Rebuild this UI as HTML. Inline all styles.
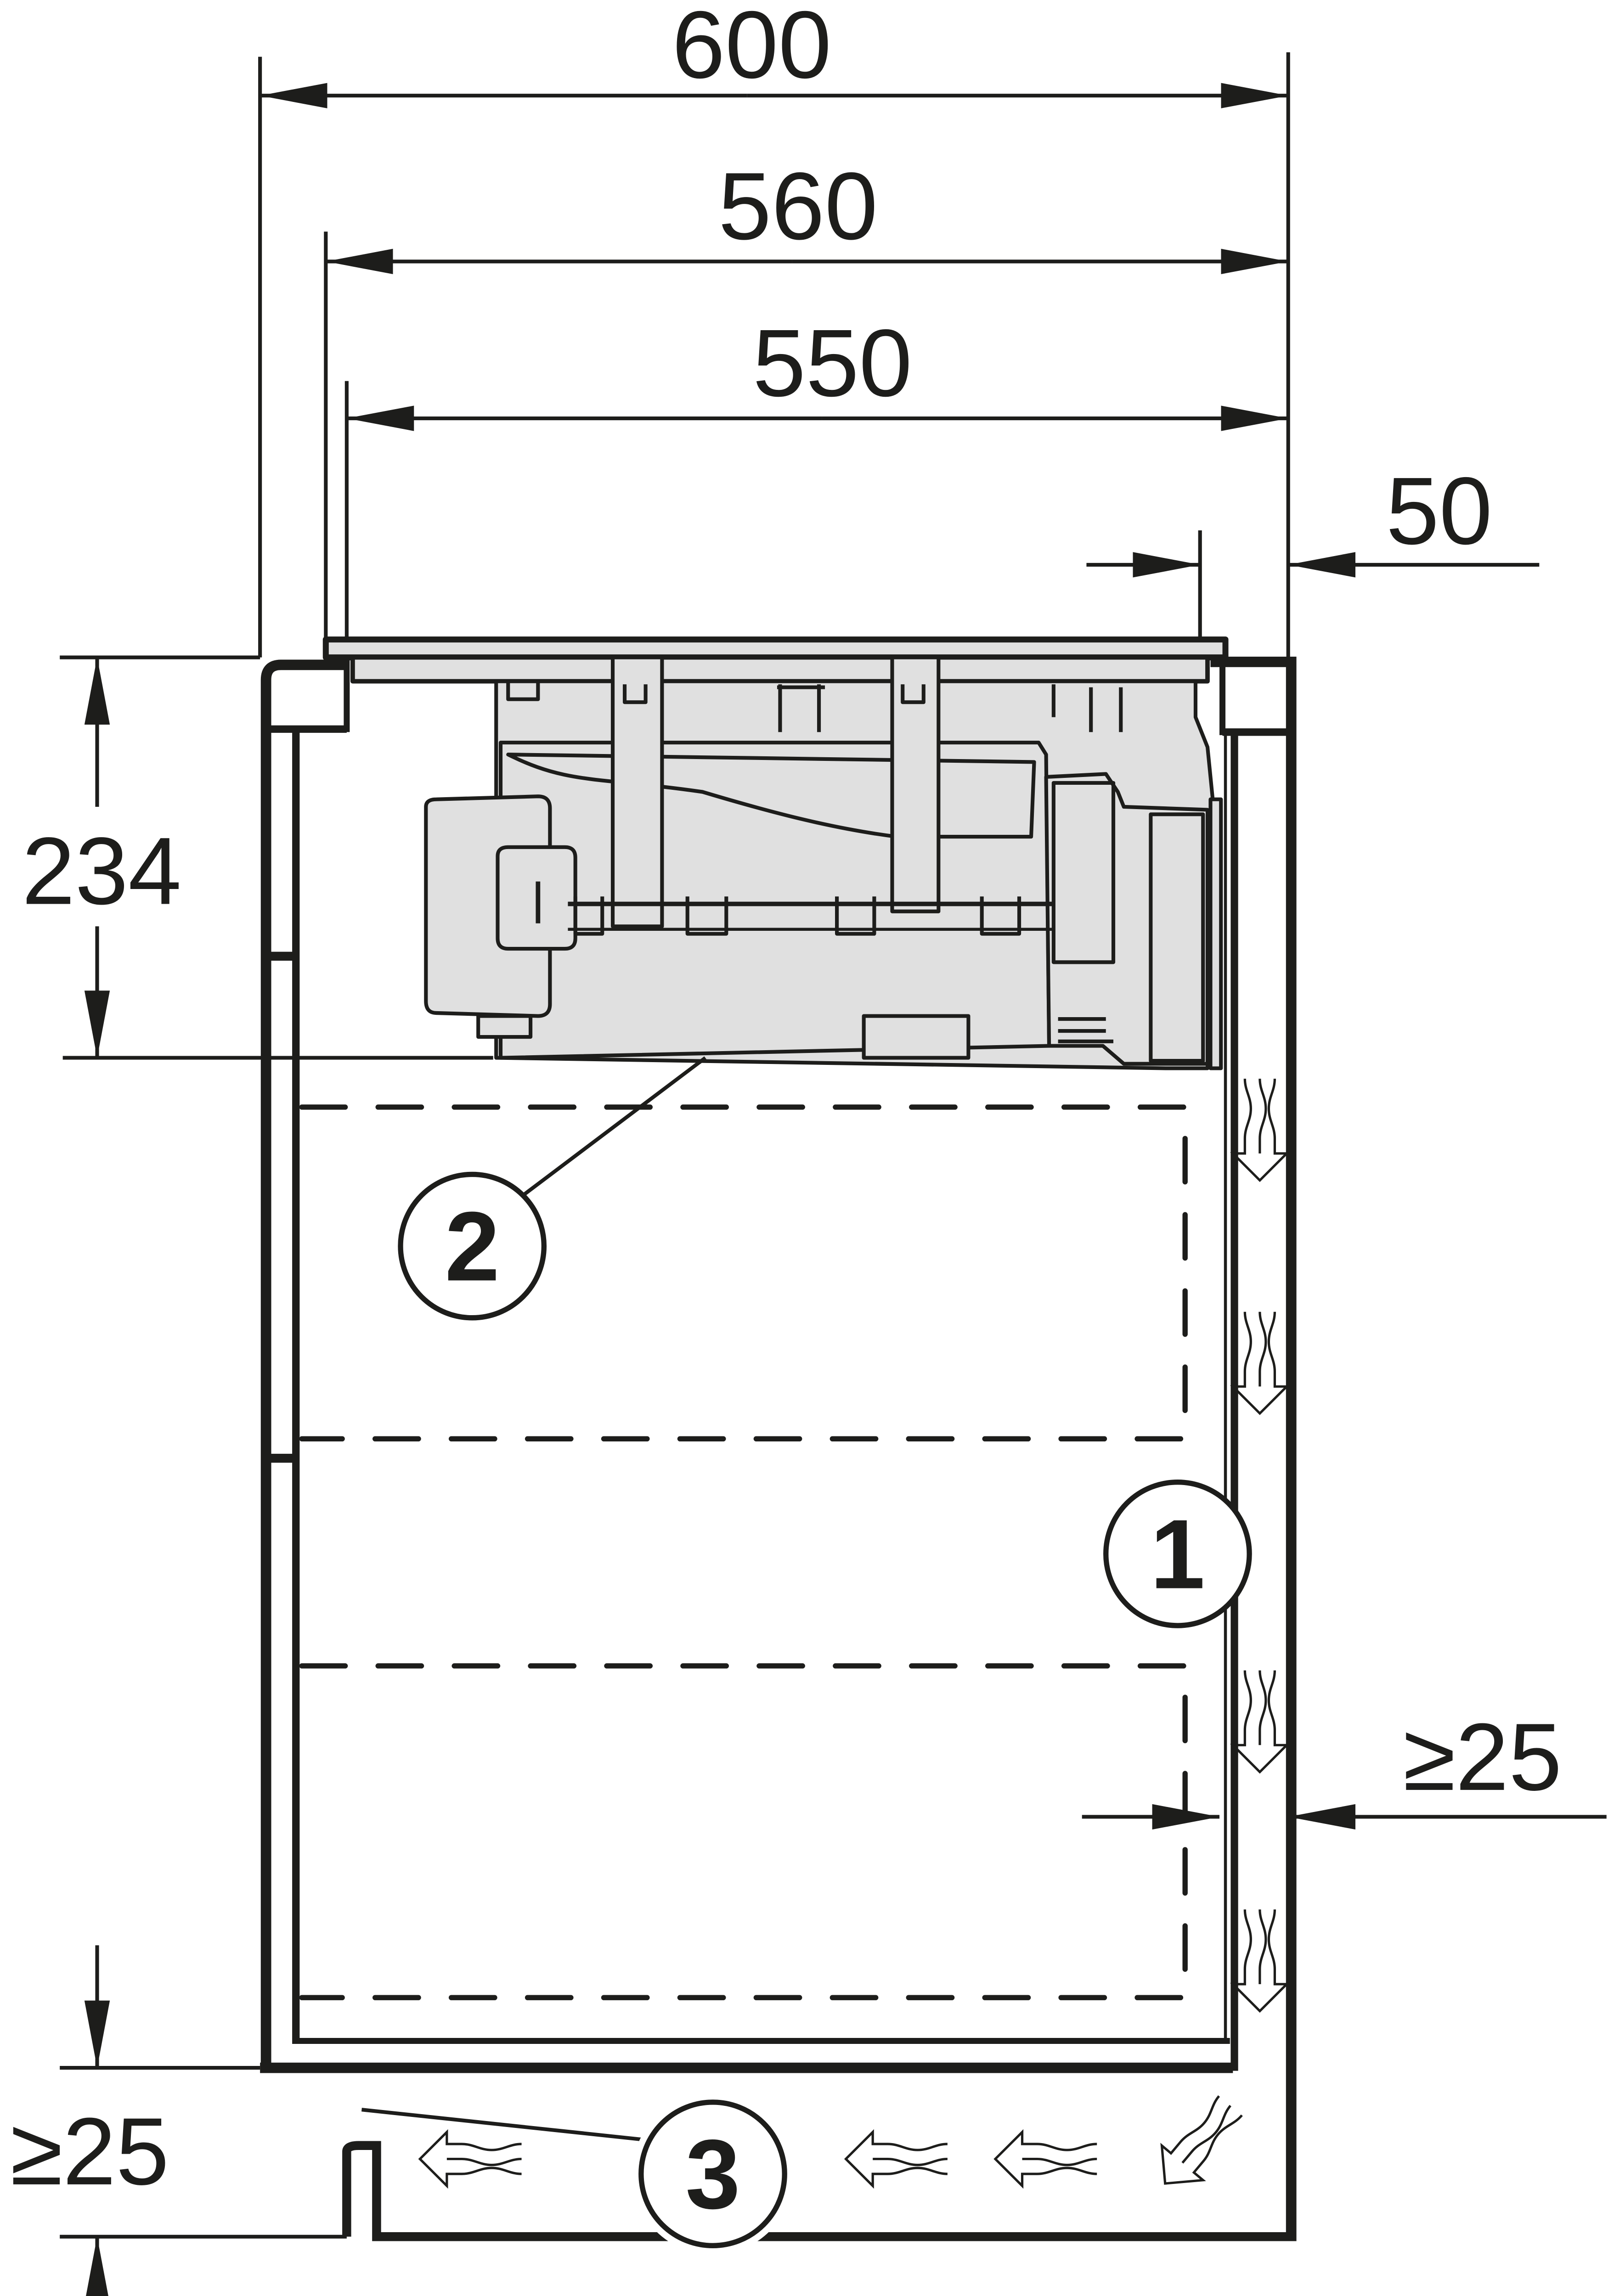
<!DOCTYPE html>
<html><head><meta charset="utf-8"><style>
html,body{margin:0;padding:0;background:#fff;width:3514px;height:5120px;overflow:hidden;}
svg{display:block;position:absolute;left:0;top:0;}
text{font-family:"Liberation Sans",Arial,sans-serif;fill:#1d1d1b;}
</style></head><body>
<svg width="3514" height="5120" viewBox="0 0 1080 1573.6" xmlns="http://www.w3.org/2000/svg">
<defs>
<g id="air" fill="none" stroke="#1d1d1b" stroke-width="1.6" stroke-linejoin="miter">
<path d="M-10,-27 c0,8 4,12 4,20 c0,8 -4,12 -4,20 l0,10 l-8,0 l18,18 l18,-18 l-8,0 l0,-10 c0,-8 -4,-12 -4,-20 c0,-8 4,-12 4,-20"/>
<path d="M0,-27 c0,8 4,12 4,20 c0,8 -4,12 -4,20 l0,10"/>
</g>
<marker id="ah" viewBox="0 0 45 17" refX="45" refY="8.5" markerWidth="45" markerHeight="17" markerUnits="userSpaceOnUse" orient="auto">
<path d="M0,0 L45,8.5 L0,17 Z" fill="#1d1d1b"/>
</marker>
</defs>
<rect width="1080" height="1574" fill="#fff"/>

<g stroke="#1d1d1b" stroke-width="2.5" fill="none">
<line x1="174" y1="38" x2="174" y2="440"/>
<line x1="862" y1="35" x2="862" y2="440"/>
<line x1="218" y1="155" x2="218" y2="430"/>
<line x1="232" y1="255" x2="232" y2="448"/>
<line x1="803" y1="355" x2="803" y2="430"/>
<line x1="500" y1="64" x2="174" y2="64" marker-end="url(#ah)"/>
<line x1="500" y1="64" x2="862" y2="64" marker-end="url(#ah)"/>
<line x1="530" y1="175" x2="218" y2="175" marker-end="url(#ah)"/>
<line x1="530" y1="175" x2="862" y2="175" marker-end="url(#ah)"/>
<line x1="550" y1="280" x2="232" y2="280" marker-end="url(#ah)"/>
<line x1="550" y1="280" x2="862" y2="280" marker-end="url(#ah)"/>
<line x1="727" y1="378" x2="803" y2="378" marker-end="url(#ah)"/>
<line x1="1030" y1="378" x2="862" y2="378" marker-end="url(#ah)"/>
<line x1="40" y1="440" x2="174" y2="440"/>
<line x1="42" y1="708" x2="330" y2="708"/>
<line x1="65" y1="540" x2="65" y2="440" marker-end="url(#ah)"/>
<line x1="65" y1="620" x2="65" y2="708" marker-end="url(#ah)"/>
<line x1="724" y1="1216" x2="816" y2="1216" marker-end="url(#ah)"/>
<line x1="1075" y1="1216" x2="862" y2="1216" marker-end="url(#ah)"/>
<line x1="40" y1="1384" x2="174" y2="1384"/>
<line x1="40" y1="1497" x2="232" y2="1497"/>
<line x1="65" y1="1302" x2="65" y2="1384" marker-end="url(#ah)"/>
<line x1="65" y1="1572" x2="65" y2="1497" marker-end="url(#ah)"/>
</g>
<g font-size="64">
<text x="503" y="52" text-anchor="middle">600</text>
<text x="534" y="160" text-anchor="middle">560</text>
<text x="557" y="265" text-anchor="middle">550</text>
<text x="963" y="364" text-anchor="middle">50</text>
<text x="68" y="605" text-anchor="middle">234</text>
<text x="992" y="1198" text-anchor="middle">≥25</text>
<text x="60" y="1462" text-anchor="middle">≥25</text>
</g>

<g stroke="#1d1d1b" fill="none">
<path d="M178,1386 L178,455 Q178,445 188,445 L232,445" stroke-width="7"/>
<line x1="178" y1="488" x2="232" y2="488" stroke-width="5"/>
<line x1="232" y1="440" x2="232" y2="490" stroke-width="4"/>
<line x1="198" y1="490" x2="198" y2="1368" stroke-width="5"/>
<line x1="178" y1="640" x2="198" y2="640" stroke-width="6"/>
<line x1="178" y1="976" x2="198" y2="976" stroke-width="6"/>
<line x1="174" y1="1384" x2="825" y2="1384" stroke-width="7"/>
<line x1="198" y1="1366" x2="823" y2="1366" stroke-width="4"/>
<line x1="826" y1="490" x2="826" y2="1386" stroke-width="5"/>
<line x1="820" y1="490" x2="820" y2="1366" stroke-width="2"/>
<path d="M810,443 L864,443 L864,1500" stroke-width="7"/>
<line x1="818" y1="490" x2="862" y2="490" stroke-width="5"/>
<line x1="818" y1="443" x2="818" y2="492" stroke-width="4"/>
<path d="M232,1497 L232,1440 Q232,1436 240,1436 L252,1436 L252,1497 L864,1497" stroke-width="6"/>
</g>
<g stroke="#1d1d1b" stroke-width="3.5" fill="none" stroke-dasharray="29 22" stroke-linecap="round">
<path d="M202,741 L793,741 L793,963 L202,963"/>
<path d="M202,1115 L793,1115 L793,1337 L202,1337"/>
</g>

<g stroke="#1d1d1b" stroke-width="2.5" fill="#e0e0e0" stroke-linejoin="round">
<rect x="218" y="428" width="602" height="12" stroke-width="4"/>
<rect x="236" y="440" width="572" height="16" stroke-width="3"/>
<path d="M332,456 L800,456 L800,480 L808,500 L812,540 L808,715 L780,715 L332,708 Z"/>
<path d="M335,497 L695,497 L700,505 L702,700 L335,708 Z"/>
<path d="M340,505 C380,525 400,520 470,530 C520,545 560,555 600,560 L690,560 L692,510 L340,505 Z"/>
<path d="M700,520 L740,518 L748,530 L752,540 L808,542 L808,712 L752,712 L738,700 L702,700 Z"/>
<rect x="705" y="524" width="40" height="120" fill="none"/>
<rect x="770" y="545" width="35" height="165" fill="none"/>
<rect x="410" y="440" width="33" height="180"/>
<rect x="597" y="440" width="31" height="170"/>
<path d="M285,540 Q285,535 292,535 L360,533 Q368,533 368,541 L368,672 Q368,680 360,680 L292,678 Q285,678 285,670 Z"/>
<path d="M333,573 Q333,567 340,567 L378,567 Q385,567 385,574 L385,628 Q385,635 378,635 L340,635 Q333,635 333,628 Z"/>
<line x1="360" y1="590" x2="360" y2="618" stroke-width="3"/>
<rect x="320" y="680" width="35" height="14"/>
<line x1="380" y1="605" x2="705" y2="605" stroke-width="3"/>
<line x1="380" y1="622" x2="705" y2="622" stroke-width="2"/>
<rect x="578" y="680" width="70" height="28"/>
<g fill="none">
<path d="M385,600 L385,625 L403,625 L403,600"/><path d="M460,600 L460,625 L486,625 L486,600"/>
<path d="M560,600 L560,625 L585,625 L585,600"/><path d="M657,600 L657,625 L682,625 L682,600"/>
<path d="M340,456 L340,468 L360,468 L360,456"/><path d="M522,458 L522,490 M548,458 L548,490 M520,460 L552,460"/>
<path d="M705,458 L705,480 M730,460 L730,490 M750,460 L750,490"/>
<path d="M418,458 L418,470 L432,470 L432,458"/><path d="M604,458 L604,470 L618,470 L618,458"/>
<path d="M708,682 L740,682 M708,690 L740,690 M708,697 L745,697"/>
</g>
<rect x="810" y="535" width="7" height="180"/>
</g>

<g stroke="#1d1d1b" stroke-width="2.5" fill="none">
<line x1="350" y1="800" x2="472" y2="708"/>
<line x1="242" y1="1412" x2="430" y2="1432"/>
</g>
<g stroke="#1d1d1b" stroke-width="3.5" fill="#fff">
<circle cx="316" cy="834" r="48"/>
<circle cx="788" cy="1040" r="48"/>
<circle cx="477" cy="1455" r="48" stroke="#fff" stroke-width="12"/>
<circle cx="477" cy="1455" r="48"/>
</g>
<g font-size="66" font-weight="bold" text-anchor="middle">
<text x="316" y="857">2</text>
<text x="788" y="1063">1</text>
<text x="477" y="1478">3</text>
</g>

<use href="#air" x="843" y="749"/>
<use href="#air" transform="translate(843,905)"/>
<use href="#air" transform="translate(843,1145)"/>
<use href="#air" transform="translate(843,1305)"/>
<use href="#air" transform="translate(322,1445) rotate(90)"/>
<use href="#air" transform="translate(607,1445) rotate(90)"/>
<use href="#air" transform="translate(707,1445) rotate(90)"/>
<use href="#air" transform="translate(806,1430) rotate(40)"/>
</svg>
</body></html>
